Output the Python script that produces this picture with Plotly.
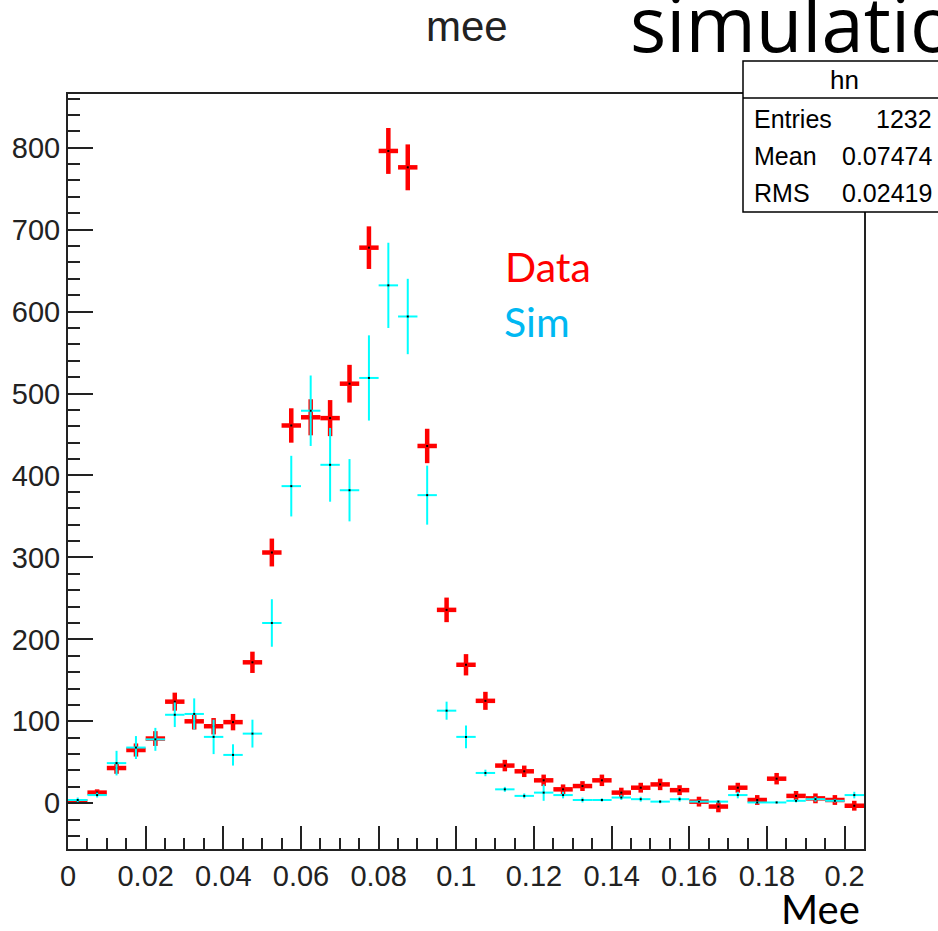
import plotly.graph_objects as go

# ---- data ----
bin_centers = [0.0025, 0.0075, 0.0125, 0.0175, 0.0225, 0.0275, 0.0325, 0.0375, 0.0425, 0.0475,
               0.0525, 0.0575, 0.0625, 0.0675, 0.0725, 0.0775, 0.0825, 0.0875, 0.0925, 0.0975,
               0.1025, 0.1075, 0.1125, 0.1175, 0.1225, 0.1275, 0.1325, 0.1375, 0.1425, 0.1475,
               0.1525, 0.1575, 0.1625, 0.1675, 0.1725, 0.1775, 0.1825, 0.1875, 0.1925, 0.1975,
               0.2025]
bin_half_width = [0.0025] * len(bin_centers)

data_values = [2, 13, 43, 65, 79, 124, 100, 94, 99, 172,
               306, 461, 471, 470, 512, 678, 796, 776, 436, 236,
               169, 125, 46, 39, 28, 17, 21, 28, 13, 19,
               23, 16, 2, -4, 19, 4, 30, 9, 6, 4,
               -3]
data_errors = [2, 4, 7, 8, 9, 11, 10, 10, 10, 13,
               17, 21, 22, 22, 23, 26, 28, 28, 21, 15,
               13, 11, 7, 7, 7, 6, 6, 7, 6, 6,
               7, 6, 6, 7, 6, 6, 7, 6, 6, 6,
               6]

sim_values = [4, 10, 49, 68, 78, 108, 109, 81, 59, 85,
              220, 387, 479, 413, 382, 519, 632, 594, 376, 113,
              81, 37, 17, 9, 13, 10, 4, 4, 7, 5,
              2, 5, 2, 2, 10, 1, 1, 3, 5, 3,
              10]
sim_errors = [3, 3, 15, 14, 14, 15, 19, 21, 13, 17,
              29, 37, 43, 45, 38, 52, 52, 46, 36, 11,
              14, 4, 3, 3, 10, 4, 3, 2, 3, 3,
              2, 3, 2, 2, 4, 1, 1, 2, 3, 2,
              4]

x_tickvals = [0, 0.02, 0.04, 0.06, 0.08, 0.1, 0.12, 0.14, 0.16, 0.18, 0.2]
x_ticktext = ["0", "0.02", "0.04", "0.06", "0.08", "0.1", "0.12", "0.14", "0.16", "0.18", "0.2"]
y_tickvals = [0, 100, 200, 300, 400, 500, 600, 700, 800]
y_ticktext = ["0", "100", "200", "300", "400", "500", "600", "700", "800"]

stats_title = "hn"
stats_labels = ["Entries", "Mean", "RMS"]
stats_values = ["1232", "0.07474", "0.02419"]

# ---- layout helpers (pixel -> paper) ----
W, H = 938, 931
L, R, T, B = 68, 74, 94, 82
PW, PH = W - L - R, H - T - B


def px(x):
    return (x - L) / PW


def py(y):
    return (H - B - y) / PH


fig = go.Figure()

fig.add_trace(go.Scatter(
    x=bin_centers, y=data_values, mode="markers", name="Data",
    marker=dict(color="black", size=2, symbol="square"),
    error_x=dict(type="data", array=bin_half_width, thickness=4.5, width=0, color="#ff0000"),
    error_y=dict(type="data", array=data_errors, thickness=4.5, width=0, color="#ff0000"),
    showlegend=False,
))
fig.add_trace(go.Scatter(
    x=bin_centers, y=sim_values, mode="markers", name="Sim",
    marker=dict(color="black", size=2, symbol="square"),
    error_x=dict(type="data", array=bin_half_width, thickness=2, width=0, color="#00ffff"),
    error_y=dict(type="data", array=sim_errors, thickness=2, width=0, color="#00ffff"),
    showlegend=False,
))

tick_font = dict(family="Liberation Sans, Arial, sans-serif", size=29, color="#222")

fig.update_xaxes(
    range=[0, 0.205], tickmode="array", tickvals=x_tickvals, ticktext=x_ticktext,
    ticks="inside", ticklen=23, tickwidth=2, tickcolor="#222",
    minor=dict(dtick=0.005, tick0=0, ticks="inside", ticklen=11, tickwidth=1.5, tickcolor="#222"),
    showline=True, linecolor="#222", linewidth=2, mirror=True,
    showgrid=False, zeroline=False, tickfont=tick_font,
)
fig.update_yaxes(
    range=[-55.8, 865.5], tickmode="array", tickvals=y_tickvals, ticktext=y_ticktext,
    ticks="inside", ticklen=25, tickwidth=2, tickcolor="#222",
    minor=dict(dtick=20, tick0=0, ticks="inside", ticklen=12, tickwidth=1.5, tickcolor="#222"),
    showline=True, linecolor="#222", linewidth=2, mirror=True,
    showgrid=False, zeroline=False, tickfont=tick_font,
)

annotations = [
    dict(text="mee", x=px(467), y=py(26), xanchor="center", yanchor="middle",
         font=dict(family="Liberation Sans, Arial", size=42, color="#222")),
    dict(text="simulation", x=px(628), y=py(23), xanchor="left", yanchor="middle",
         font=dict(family="Open Sans, sans-serif", size=76, color="black")),
    dict(text="Data", x=px(503), y=py(266), xanchor="left", yanchor="middle",
         font=dict(family="Lato, Calibri, sans-serif", size=41, color="#ff0000")),
    dict(text="Sim", x=px(502), y=py(321), xanchor="left", yanchor="middle",
         font=dict(family="Lato, Calibri, sans-serif", size=41, color="#00b8f2")),
    dict(text="Mee", x=px(862), y=py(909), xanchor="right", yanchor="middle",
         font=dict(family="Lato, Calibri, sans-serif", size=40, color="black")),
    dict(text=stats_title, x=px(844), y=py(80), xanchor="center", yanchor="middle",
         font=dict(family="Liberation Sans, Arial", size=26, color="black")),
]
stat_rows_y = [119, 156, 193]
for lab, val, yy in zip(stats_labels, stats_values, stat_rows_y):
    annotations.append(dict(text=lab, x=px(752), y=py(yy), xanchor="left", yanchor="middle",
                            font=dict(family="Liberation Sans, Arial", size=25, color="black")))
    annotations.append(dict(text=val, x=px(934), y=py(yy), xanchor="right", yanchor="middle",
                            font=dict(family="Liberation Sans, Arial", size=25, color="black")))
for a in annotations:
    a.update(xref="paper", yref="paper", showarrow=False)

shapes = [
    dict(type="rect", xref="paper", yref="paper", x0=px(743), x1=px(990), y0=py(212), y1=py(61),
         line=dict(color="black", width=1.5), fillcolor="white", layer="above"),
    dict(type="line", xref="paper", yref="paper", x0=px(743), x1=px(990), y0=py(98), y1=py(98),
         line=dict(color="black", width=1.5), layer="above"),
]

fig.update_layout(
    width=W, height=H, margin=dict(l=L, r=R, t=T, b=B, pad=0),
    paper_bgcolor="white", plot_bgcolor="white",
    annotations=annotations, shapes=shapes,
)

fig.write_html("out.html")
